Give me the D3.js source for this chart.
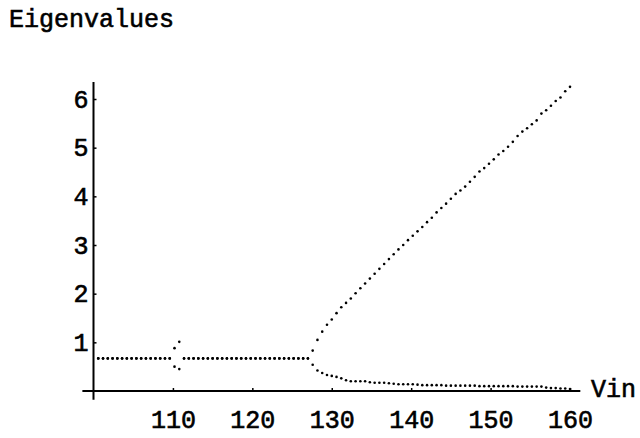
<!DOCTYPE html>
<html>
<head>
<meta charset="utf-8">
<script src="https://cdn.jsdelivr.net/npm/d3@7/dist/d3.min.js"></script>
<style>
  html, body { margin: 0; padding: 0; background: #fff; }
  svg { display: block; }
  text { font-family: "Liberation Mono", "DejaVu Sans Mono", monospace; fill: #000; }
</style>
</head>
<body>
<svg id="chart" width="640" height="438"></svg>
<script>
// Input voltage samples
const vin = [
  100.6, 101.2, 101.8, 102.4, 103.0, 103.6, 104.2, 104.8, 105.4, 106.0,
  106.6, 107.2, 107.8, 108.4, 109.0, 109.6, 110.2, 110.8, 111.4, 112.0,
  112.6, 113.2, 113.8, 114.4, 115.0, 115.6, 116.2, 116.8, 117.4, 118.0,
  118.6, 119.2, 119.8, 120.4, 121.0, 121.6, 122.2, 122.8, 123.4, 124.0,
  124.6, 125.2, 125.8, 126.4, 127.0, 127.6, 128.2, 128.8, 129.4, 130.0,
  130.6, 131.2, 131.8, 132.4, 133.0, 133.6, 134.2, 134.8, 135.4, 136.0,
  136.6, 137.2, 137.8, 138.4, 139.0, 139.6, 140.2, 140.8, 141.4, 142.0,
  142.6, 143.2, 143.8, 144.4, 145.0, 145.6, 146.2, 146.8, 147.4, 148.0,
  148.6, 149.2, 149.8, 150.4, 151.0, 151.6, 152.2, 152.8, 153.4, 154.0,
  154.6, 155.2, 155.8, 156.4, 157.0, 157.6, 158.2, 158.8, 159.4, 160.0
];

// First eigenvalue (upper branch after the split)
const eigenA = [
  0.67, 0.67, 0.67, 0.67, 0.67, 0.67, 0.67, 0.67, 0.67, 0.67,
  0.67, 0.67, 0.67, 0.67, 0.67, 0.67, 0.88, 1.01, 0.67, 0.67,
  0.67, 0.67, 0.67, 0.67, 0.67, 0.67, 0.67, 0.67, 0.67, 0.67,
  0.67, 0.67, 0.67, 0.67, 0.67, 0.67, 0.67, 0.67, 0.67, 0.67,
  0.67, 0.67, 0.67, 0.67, 0.67, 0.83, 1.05, 1.22, 1.36, 1.47,
  1.60, 1.72, 1.81, 1.90, 2.01, 2.11, 2.21, 2.31, 2.41, 2.51,
  2.61, 2.71, 2.81, 2.91, 3.00, 3.10, 3.19, 3.28, 3.37, 3.47,
  3.56, 3.67, 3.76, 3.85, 3.95, 4.05, 4.12, 4.20, 4.30, 4.40,
  4.51, 4.58, 4.67, 4.76, 4.86, 4.93, 5.02, 5.12, 5.24, 5.33,
  5.40, 5.48, 5.56, 5.70, 5.77, 5.86, 5.96, 6.03, 6.16, 6.25
];

// Second eigenvalue (lower branch after the split)
const eigenB = [
  0.67, 0.67, 0.67, 0.67, 0.67, 0.67, 0.67, 0.67, 0.67, 0.67,
  0.67, 0.67, 0.67, 0.67, 0.67, 0.67, 0.50, 0.45, 0.67, 0.67,
  0.67, 0.67, 0.67, 0.67, 0.67, 0.67, 0.67, 0.67, 0.67, 0.67,
  0.67, 0.67, 0.67, 0.67, 0.67, 0.67, 0.67, 0.67, 0.67, 0.67,
  0.67, 0.67, 0.67, 0.67, 0.67, 0.54, 0.42, 0.37, 0.33, 0.31,
  0.29, 0.26, 0.22, 0.20, 0.20, 0.20, 0.20, 0.18, 0.17, 0.17,
  0.17, 0.16, 0.15, 0.14, 0.14, 0.14, 0.14, 0.13, 0.12, 0.12,
  0.12, 0.12, 0.12, 0.11, 0.11, 0.11, 0.11, 0.11, 0.11, 0.11,
  0.10, 0.10, 0.10, 0.10, 0.10, 0.10, 0.10, 0.10, 0.09, 0.09,
  0.09, 0.09, 0.09, 0.09, 0.07, 0.06, 0.06, 0.05, 0.05, 0.04
];

const xTicks = [110, 120, 130, 140, 150, 160];
const yTicks = [1, 2, 3, 4, 5, 6];

const svg = d3.select("#chart");

const x = d3.scaleLinear().domain([100, 160]).range([93.5, 570]);
const y = d3.scaleLinear().domain([0, 6]).range([391, 99]);

// Axis lines, crossing at the origin with short overhangs
svg.append("line")
  .attr("x1", x(98.6)).attr("x2", x(161.3))
  .attr("y1", y(0)).attr("y2", y(0))
  .attr("stroke", "#000").attr("stroke-width", 2);
svg.append("line")
  .attr("x1", x(100)).attr("x2", x(100))
  .attr("y1", y(-0.18)).attr("y2", y(6.35))
  .attr("stroke", "#000").attr("stroke-width", 2);

// Shared text look: medium-weight monospace
function styleText(sel) {
  sel.attr("fill", "#000")
    .style("font-family", '"Liberation Mono", monospace')
    .style("font-size", "25px")
    .style("font-weight", "normal")
    .attr("stroke", "#000")
    .attr("stroke-width", 0.6);
}

// Tick marks and labels
const xAxis = d3.axisBottom(x).tickValues(xTicks).tickFormat(d3.format("d"))
  .tickSizeInner(-3).tickSizeOuter(0).tickPadding(19);
const gx = svg.append("g").attr("transform", `translate(0,${y(0)})`).call(xAxis);
gx.select(".domain").remove();

const yAxis = d3.axisLeft(y).tickValues(yTicks).tickFormat(d3.format("d"))
  .tickSizeInner(-3).tickSizeOuter(0).tickPadding(5);
const gy = svg.append("g").attr("transform", `translate(${x(100)},0)`).call(yAxis);
gy.select(".domain").remove();

svg.selectAll(".tick line").attr("stroke", "#000").attr("stroke-width", 1.5);
svg.selectAll(".tick text").call(styleText);

// Axis captions
svg.append("text")
  .attr("x", 9).attr("y", 27)
  .text("Eigenvalues")
  .call(styleText);
svg.append("text")
  .attr("x", 591).attr("y", 397)
  .text("Vin")
  .call(styleText);

// Eigenvalue points
const pts = vin.flatMap((v, i) => [{ v, e: eigenA[i] }, { v, e: eigenB[i] }]);
svg.append("g").selectAll("circle")
  .data(pts)
  .join("circle")
  .attr("cx", d => x(d.v))
  .attr("cy", d => y(d.e))
  .attr("r", 1.3)
  .attr("fill", "#000");
</script>
</body>
</html>
